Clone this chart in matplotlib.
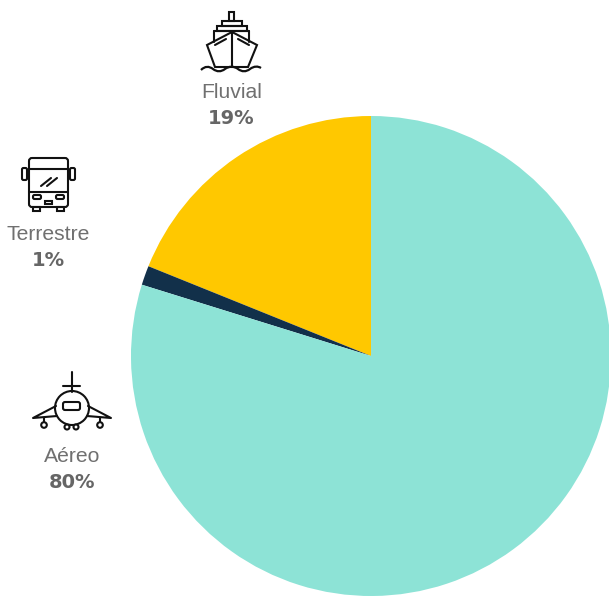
import matplotlib
matplotlib.use("Agg")
import matplotlib.pyplot as plt
from matplotlib.patches import Circle, Rectangle, FancyBboxPatch, Polygon, PathPatch
from matplotlib.path import Path

categories = ["Fluvial", "Terrestre", "Aéreo"]
shown_percent = ["19%", "1%", "80%"]
slice_values = [18.9, 1.3, 79.8]
colors = ["#FFC800", "#12304A", "#8DE3D6"]

W, H = 609, 597
fig = plt.figure(figsize=(W / 100, H / 100), dpi=100)

# pie
cx, cy, r = 371, 356, 240
ax = fig.add_axes([(cx - r) / W, 1 - (cy + r) / H, 2 * r / W, 2 * r / H])
ax.pie(slice_values, colors=colors, startangle=90, counterclock=True, radius=1)
ax.set_xlim(-1, 1)
ax.set_ylim(-1, 1)
ax.set_aspect("equal")

# overlay in pixel coordinates for the labels and icons
ov = fig.add_axes([0, 0, 1, 1])
ov.set_xlim(0, W)
ov.set_ylim(H, 0)
ov.axis("off")

label_pos = [(231.5, 92), (48.5, 235), (72, 457)]
for name, pct, (x, y) in zip(categories, shown_percent, label_pos):
    ov.text(x, y, name, ha="center", va="center", fontsize=15.2,
            family="Liberation Sans", color="#707070")
    ov.text(x, y + 26, pct, ha="center", va="center", fontsize=14,
            family="DejaVu Sans", fontweight="bold", color="#666666")

K = "#111111"
LW = 1.5


def line(xs, ys, lw=LW):
    ov.plot(xs, ys, color=K, lw=lw, solid_capstyle="round", solid_joinstyle="round")


def box(x0, y0, x1, y1, lw=LW, rounding=0.0):
    if rounding:
        ov.add_patch(FancyBboxPatch((x0, y0), x1 - x0, y1 - y0,
                                    boxstyle=f"round,pad=0,rounding_size={rounding}",
                                    fc="none", ec=K, lw=lw))
    else:
        ov.add_patch(Rectangle((x0, y0), x1 - x0, y1 - y0, fc="none", ec=K, lw=lw))


# ship icon
box(229, 12, 234, 21)
box(222, 21, 242, 26)
box(217, 26, 247, 31)
line([214, 214], [31, 42])
line([249, 249], [31, 42])
line([214, 249], [31, 31])
ov.add_patch(Polygon([(207, 45), (232, 32), (257, 45), (248, 67), (215, 67)],
                     closed=True, fc="white", ec=K, lw=LW))
line([232, 232], [32, 67])
line([215, 226], [45, 39])
line([249, 238], [45, 39])
wave_verts = [(201, 70), (205, 66), (209, 66), (213, 69), (217, 72), (221, 72), (225, 69),
              (229, 66), (234, 66), (238, 69), (242, 72), (246, 72), (250, 69),
              (254, 66), (258, 66), (261, 68)]
wave_codes = [Path.MOVETO] + [Path.CURVE4] * (len(wave_verts) - 1)
ov.add_patch(PathPatch(Path(wave_verts, wave_codes), fc="none", ec=K, lw=1.6))

# bus icon
box(29, 158, 68, 207, rounding=3)
line([29, 68], [169, 169])
line([29, 68], [192, 192])
box(22, 168, 27, 180, rounding=1.5)
box(70, 168, 75, 180, rounding=1.5)
box(33, 207, 40, 211)
box(57, 207, 64, 211)
box(33, 195, 41, 199, rounding=1.5)
box(56, 195, 64, 199, rounding=1.5)
box(45, 201, 52, 204)
line([41, 51], [186, 178])
line([47, 57], [186, 178])

# plane icon
line([72, 72], [372, 392])
line([63, 80], [386, 386])
ov.add_patch(Circle((72, 408), 17, fc="white", ec=K, lw=LW))
box(63, 402, 80, 410, rounding=2)
line([56, 33, 57], [406, 418, 416])
line([88, 111, 87], [406, 418, 416])
for wx, wy, wr in [(44, 425, 2.8), (100, 425, 2.8), (67, 427, 2.5), (76, 427, 2.5)]:
    ov.add_patch(Circle((wx, wy), wr, fc="white", ec=K, lw=LW))
line([44, 44], [418, 422])
line([100, 100], [418, 422])

fig.savefig("out.png", dpi=100)
